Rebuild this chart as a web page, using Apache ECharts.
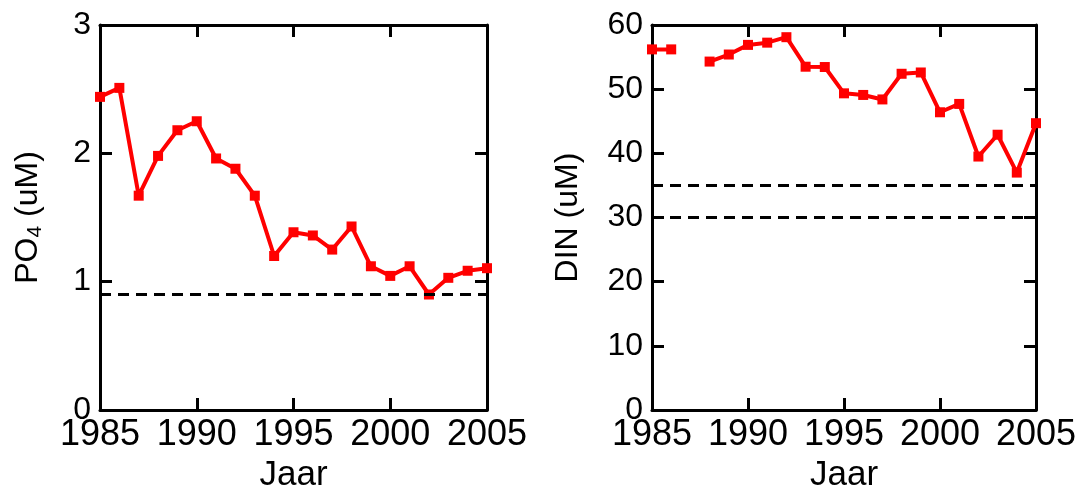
<!DOCTYPE html>
<html><head><meta charset="utf-8">
<script src="https://cdn.jsdelivr.net/npm/echarts@6/dist/echarts.min.js"></script>
<style>html,body{margin:0;padding:0;background:#fff}#c{width:1076px;height:496px}</style>
</head><body><div id="c"></div>
<script>
const years = [1985,1986,1987,1988,1989,1990,1991,1992,1993,1994,1995,1996,1997,1998,1999,2000,2001,2002,2003,2004,2005];
const po4 = [2.44,2.51,1.67,1.98,2.18,2.25,1.96,1.88,1.67,1.20,1.385,1.36,1.25,1.43,1.12,1.045,1.12,0.90,1.03,1.085,1.105];
const din = [56.2,56.2,null,54.3,55.4,56.9,57.25,58.1,53.5,53.45,49.35,49.1,48.4,52.4,52.6,46.4,47.7,39.5,42.9,37.0,44.7];
const po4Norm = [0.9];
const dinNorm = [35, 30];
const xTicks = [1985,1990,1995,2000,2005];
const po4Ticks = [0,1,2,3];
const dinTicks = [0,10,20,30,40,50,60];

const chart = echarts.init(document.getElementById('c'));
const lineStyle = {color:'#000', width:3};
const tick = {show:true, inside:true, length:12, lineStyle:{color:'#000', width:3}};
const xFont = {fontFamily:'"Liberation Sans",Arial,sans-serif', fontSize:36, color:'#000'};
const yFont = {fontFamily:'"Liberation Sans",Arial,sans-serif', fontSize:32, color:'#000'};

function xAxes(gi){
  return [
    {gridIndex:gi, type:'value', min:xTicks[0], max:xTicks[xTicks.length-1], interval:5, position:'bottom',
     axisLine:{show:true, onZero:false, lineStyle}, axisTick:tick, splitLine:{show:false},
     axisLabel:Object.assign({margin:7, formatter:v=>String(v)}, xFont),
     name:'Jaar', nameLocation:'middle', nameGap:48, nameTextStyle:Object.assign({}, xFont, {fontSize:35})},
    {gridIndex:gi, type:'value', min:xTicks[0], max:xTicks[xTicks.length-1], interval:5, position:'top',
     axisLine:{show:true, onZero:false, lineStyle}, axisTick:tick, splitLine:{show:false}, axisLabel:{show:false}}
  ];
}
function yAxes(gi, ticks, name, gap){
  const mn = ticks[0], mx = ticks[ticks.length-1], iv = ticks[1]-ticks[0];
  return [
    {gridIndex:gi, type:'value', min:mn, max:mx, interval:iv, position:'left',
     axisLine:{show:true, onZero:false, lineStyle}, axisTick:tick, splitLine:{show:false},
     axisLabel:Object.assign({margin:9}, yFont),
     name:name, nameLocation:'middle', nameGap:gap, nameRotate:90,
     nameTextStyle:Object.assign({}, yFont, {rich:{sub:Object.assign({}, yFont, {fontSize:21, padding:[0,0,-14,0]})}})},
    {gridIndex:gi, type:'value', min:mn, max:mx, interval:iv, position:'right',
     axisLine:{show:true, onZero:false, lineStyle}, axisTick:tick, splitLine:{show:false}, axisLabel:{show:false}}
  ];
}
function mk(vals){
  return {silent:true, symbol:'none', label:{show:false},
    lineStyle:{color:'#000', width:3, type:[11,7]},
    data: vals.map(v=>({yAxis:v}))};
}
chart.setOption({
  animation:false,
  grid:[
    {left:100, right:589, top:25, bottom:86, containLabel:false, outerBoundsMode:'none'},
    {left:652, right:40, top:25, bottom:86, containLabel:false, outerBoundsMode:'none'}
  ],
  xAxis:[...xAxes(0), ...xAxes(1)],
  yAxis:[...yAxes(0, po4Ticks, 'PO{sub|4} (uM)', 56), ...yAxes(1, dinTicks, 'DIN (uM)', 68)],
  series:[
    {type:'line', xAxisIndex:0, yAxisIndex:0, data:years.map((y,i)=>[y,po4[i]]),
     symbol:'rect', symbolSize:10, clip:false, itemStyle:{color:'#ff0000'},
     lineStyle:{color:'#ff0000', width:4}, markLine:mk(po4Norm)},
    {type:'line', xAxisIndex:2, yAxisIndex:2, data:years.map((y,i)=>[y,din[i]]),
     symbol:'rect', symbolSize:10, clip:false, connectNulls:false, itemStyle:{color:'#ff0000'},
     lineStyle:{color:'#ff0000', width:4}, markLine:mk(dinNorm)}
  ]
});
</script></body></html>
